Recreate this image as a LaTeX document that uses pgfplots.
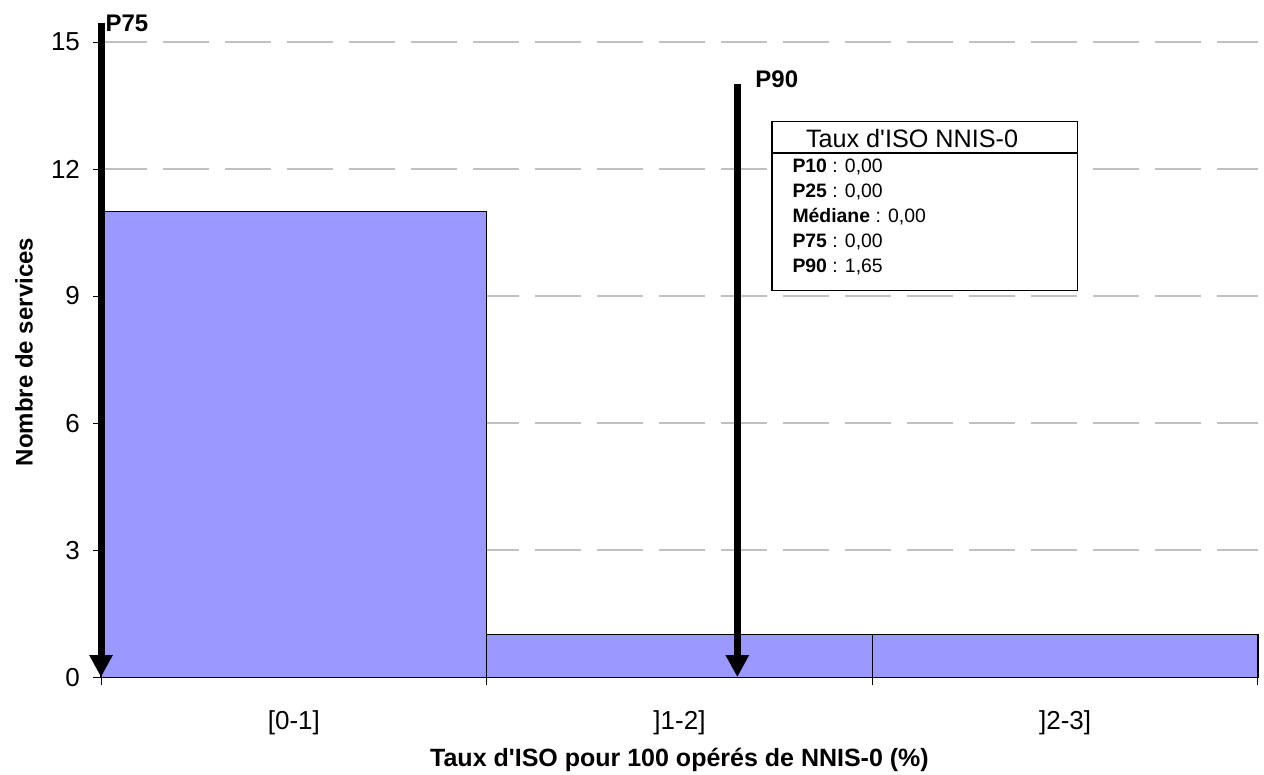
\documentclass[border=0pt]{standalone}
\usepackage{fontspec}
\setmainfont{Liberation Sans}
\usepackage{pgfplots}
\pgfplotsset{compat=1.18}
\usetikzlibrary{arrows.meta}
\definecolor{barblue}{HTML}{9999FF}
\definecolor{gridgray}{HTML}{C0C0C0}
\newcommand{\ap}{\textquotesingle}
\begin{document}
\begin{tikzpicture}
\begin{axis}[
  x=192.83pt, y=21.17pt,
  xmin=0, xmax=3, ymin=0, ymax=15,
  clip=false,
  axis x line=bottom, axis y line=left,
  axis line style={black, line width=0.6pt, -},
  xtick={0,1,2,3}, xticklabels={},
  extra x ticks={0.5,1.5,2.5},
  extra x tick labels={{[0-1]},{]1-2]},{]2-3]}},
  extra x tick style={major tick length=0pt, grid=none, xticklabel style={yshift=-13pt}},
  ytick={0,3,6,9,12,15},
  tick align=outside, major tick length=4pt,
  tick style={black, line width=0.5pt},
  ymajorgrids=true,
  major grid style={gridgray, dash pattern=on 23pt off 8pt, line width=0.6pt},
  /pgf/number format/assume math mode=true,
  ticklabel style={font=\fontsize{13}{15}\selectfont},
  yticklabel style={xshift=-3pt},
  xlabel={\textbf{Taux d\ap ISO pour 100 opérés de NNIS-0 (\%)}},
  ylabel={\textbf{Nombre de services}},
  label style={font=\fontsize{12}{14}\selectfont},
  xlabel style={at={(axis description cs:0.5,0)}, anchor=center, yshift=-41.5pt, font=\fontsize{12.5}{14}\selectfont},
  ylabel style={at={(axis description cs:-0.0666,0.512)}, anchor=center},
]
\addplot[ybar interval, fill=barblue, draw=black, line width=0.6pt] coordinates {(0,11) (1,1) (2,1) (3,1)};
% arrows
\draw[line width=3.5pt, -{Triangle[width=11pt,length=11pt]}] (axis cs:0,15.45) -- (axis cs:0,0);
\draw[line width=3.5pt, -{Triangle[width=11pt,length=11pt]}] (axis cs:1.65,14.0) -- (axis cs:1.65,0);
\node[anchor=west, inner sep=0pt, font=\bfseries\fontsize{12}{14}\selectfont] at (axis cs:0.011,15.43) {P75};
\node[anchor=west, inner sep=0pt, font=\bfseries\fontsize{12}{14}\selectfont] at (axis cs:1.696,14.11) {P90};
% stats box
\draw[black, line width=0.6pt, fill=white] (axis cs:1.74,9.14) rectangle (axis cs:2.533,13.13);
\draw[black, line width=0.6pt] (axis cs:1.74,12.38) -- (axis cs:2.533,12.38);
\node[inner sep=0pt, font=\fontsize{12.6}{15}\selectfont] at (axis cs:2.103,12.73) {Taux d\ap ISO NNIS-0};
\node[anchor=west, inner sep=0pt, font=\fontsize{9.7}{11.5}\selectfont] at (axis cs:1.792,12.05) {\textbf{P10} : 0,00};
\node[anchor=west, inner sep=0pt, font=\fontsize{9.7}{11.5}\selectfont] at (axis cs:1.792,11.46) {\textbf{P25} : 0,00};
\node[anchor=west, inner sep=0pt, font=\fontsize{9.7}{11.5}\selectfont] at (axis cs:1.792,10.87) {\textbf{Médiane} : 0,00};
\node[anchor=west, inner sep=0pt, font=\fontsize{9.7}{11.5}\selectfont] at (axis cs:1.792,10.28) {\textbf{P75} : 0,00};
\node[anchor=west, inner sep=0pt, font=\fontsize{9.7}{11.5}\selectfont] at (axis cs:1.792,9.69) {\textbf{P90} : 1,65};
\coordinate (bl) at (axis cs:-0.2619,-2.2915);
\coordinate (tr) at (axis cs:3.0156,15.992);
\end{axis}
\pgfresetboundingbox
\path (bl) rectangle (tr);
\end{tikzpicture}
\end{document}
